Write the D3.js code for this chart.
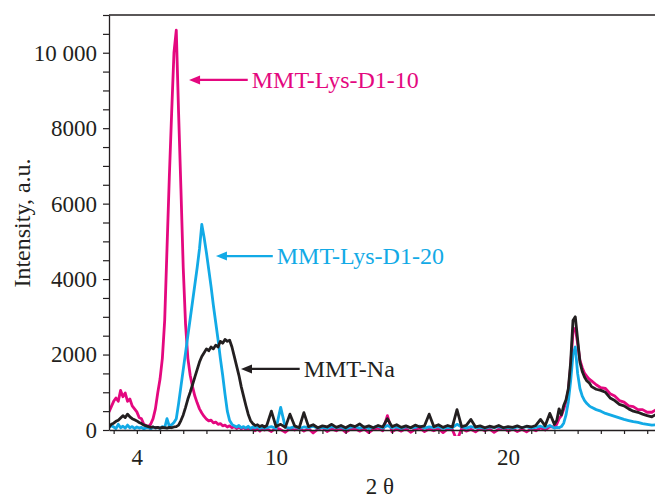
<!DOCTYPE html>
<html>
<head>
<meta charset="utf-8">
<script src="https://cdn.jsdelivr.net/npm/d3@7"></script>
<style>
	body { margin: 0; background: #fff; }
	svg text { font-family: "Liberation Serif", "Times New Roman", serif; fill: #231f20; }
</style>
</head>
<body>
<svg id="chart" width="655" height="499"></svg>
<script>
// 2 theta grid (degrees)
var twoTheta = [
	2.8, 2.9, 3.0, 3.1, 3.2, 3.3, 3.4, 3.5, 3.6, 3.7, 3.8, 3.9, 4.0, 4.1, 4.2, 4.3, 4.4,
	4.5, 4.6, 4.7, 4.8, 4.9, 5.0, 5.1, 5.2, 5.3, 5.4, 5.5, 5.6, 5.7, 5.8, 5.9, 6.0, 6.1,
	6.2, 6.3, 6.4, 6.5, 6.6, 6.7, 6.8, 6.9, 7.0, 7.1, 7.2, 7.3, 7.4, 7.5, 7.6, 7.7, 7.8,
	7.9, 8.0, 8.1, 8.2, 8.3, 8.4, 8.5, 8.6, 8.7, 8.8, 8.9, 9.0, 9.1, 9.2, 9.3, 9.4, 9.5,
	9.6, 9.8, 10.0, 10.2, 10.4, 10.6, 10.8, 11.0, 11.2, 11.4, 11.6, 11.8, 12.0, 12.2,
	12.4, 12.6, 12.8, 13.0, 13.2, 13.4, 13.6, 13.8, 14.0, 14.2, 14.4, 14.6, 14.8, 15.0,
	15.2, 15.4, 15.6, 15.8, 16.0, 16.2, 16.4, 16.6, 16.8, 17.0, 17.2, 17.4, 17.6, 17.8,
	18.0, 18.2, 18.4, 18.6, 18.8, 19.0, 19.2, 19.4, 19.6, 19.8, 20.0, 20.2, 20.4, 20.6,
	20.8, 21.0, 21.2, 21.4, 21.6, 21.8,
	22.0, 22.1, 22.2, 22.3, 22.4, 22.5, 22.6, 22.7, 22.8, 22.9, 23.0, 23.1, 23.2, 23.3,
	23.4, 23.5, 23.6,
	23.8, 24.0, 24.2, 24.4, 24.6, 24.8, 25.0, 25.2, 25.4, 25.6, 25.8, 26.0, 26.2, 26.4
];

// MMT-Lys-D1-10 (magenta)
var lysD110 = [
	480, 620, 760, 850, 760, 1050, 880, 980, 760, 820, 640, 560, 480, 330, 300, 150, 120,
	90, 160, 300, 560, 980, 1350, 1900, 2900, 4800, 6700, 8400, 10000, 10600, 8400, 6400, 4300, 2800,
	1900, 1450, 1150, 900, 720, 560, 450, 360, 290, 240, 260, 190, 210, 150, 170, 110, 130,
	80, 110, 60, 90, 40, 80, 30, 70, 20, 60, 10, 50, -20, 40, -30, 30, 0,
	30, -40, 60, 10, -60, 40, 0, 50, -30, 40, -80, 20, 60, -40,
	30, -20, 50, -60, 20, 40, -30, 30, -70, 20, 50, -20, 380, -50,
	30, -30, 40, -60, 20, 50, -40, 30, -20, 40, -70, 30, 10, -280,
	40, -30, 20, -50, 40, -20, 30, -60, 20, 50, -30, 30, -40, 20,
	-50, 30, -20, 60, 0, 90,
	80, 150, 300, 380, 550, 750, 1050, 1700, 2600, 2700, 2300, 1850, 1650, 1500,
	1420, 1350, 1300,
	1200, 1120, 1100, 960, 900, 780, 740, 640, 620, 540, 540, 470, 470, 540
];

// MMT-Lys-D1-20 (cyan)
var lysD120 = [
	60, 120, 80, 40, 150, 60, 100, 50, 130, 60, 90, 40, 80, 50, 70, 30, 60,
	60, 30, 80, 50, 70, 40, 90, 60, 300, 100, 140, 200, 300, 700, 1150, 1600, 2050,
	2500, 2950, 3400, 3850, 4300, 4800, 5450, 5100, 4700, 4250, 3800, 3300, 2850, 2400, 1900, 1450, 950,
	500, 250, 150, 110, 80, 120, 60, 90, 50, 100, 40, 80, 60, 90, 40, 70, 50,
	60, 90, 40, 600, 70, 50, 90, 40, 80, 60, 100, 50, 70, 40,
	90, 60, 80, 30, 70, 90, 50, 80, 40, 70, 100, 50, 120, 60,
	80, 40, 90, 60, 70, 100, 50, 80, 60, 90, 40, 70, 60, 150,
	80, 50, 90, 60, 70, 40, 80, 60, 90, 50, 70, 40, 80, 60,
	90, 50, 70, 100, 60, 120,
	50, 70, 60, 90, 180, 400, 750, 1300, 2000, 2200, 1500, 1100, 900, 780,
	700, 640, 600,
	540, 500, 440, 400, 360, 320, 280, 250, 220, 200, 170, 150, 130, 140
];

// MMT-Na (black)
var mmtNa = [
	80, 150, 180, 230, 260, 320, 380, 330, 420, 350, 300, 270, 240, 200, 170, 130, 110,
	90, 70, 80, 60, 70, 50, 70, 60, 50, 70, 60, 80, 90, 130, 250, 400, 600,
	820, 1000, 1200, 1400, 1600, 1800, 1950, 2050, 2150, 2100, 2200, 2150, 2250, 2200, 2350, 2300, 2400,
	2350, 2380, 2200, 1950, 1700, 1450, 1150, 900, 650, 420, 250, 170, 120, 140, 90, 120, 80,
	120, 500, 90, 150, 70, 420, 110, 60, 460, 90, 140, 60, 110, 80,
	150, 70, 120, 60, 130, 90, 160, 70, 110, 60, 120, 80, 300, 90,
	140, 70, 110, 60, 130, 80, 110, 420, 90, 140, 70, 120, 80, 540,
	90, 120, 280, 80, 110, 60, 100, 70, 120, 60, 90, 70, 110, 60,
	100, 80, 120, 280, 110, 440,
	150, 250, 560, 400, 650, 800, 1100, 1800, 2900, 3000, 2400, 1800, 1550, 1400,
	1300, 1250, 1150,
	1080, 1050, 1000, 850, 780, 680, 640, 560, 500, 470, 420, 380, 350, 420
];

var seriesNames = ["MMT-Lys-D1-10", "MMT-Lys-D1-20", "MMT-Na"];
var seriesColors = ["#e4087f", "#12aae6", "#231f20"];

// arrow annotations: tip and tail in data units
var arrowTipTheta = [6.25, 7.41, 8.49];
var arrowTipInt = [9280, 4610, 1620];
var arrowTailTheta = [8.78, 9.86, 11.02];

var xTicks = d3.range(3, 27);
var xLabels = [4, 10, 20];
var yTicks = d3.range(0, 11001, 500);
var yLabels = [0, 2000, 4000, 6000, 8000, 10000];

var margin = {left: 109, top: 15, bottom: 69};
var width = 655, height = 499;

var svg = d3.select("#chart");

var xScale = d3.scaleLinear()
	.domain([2.8, 26.4])
	.range([margin.left, 656.5]);
var yScale = d3.scaleLinear()
	.domain([0, 11000])
	.range([height - margin.bottom, margin.top]);

// clip the traces to the plot
svg.append("clipPath")
	.attr("id", "plotClip")
	.append("rect")
	.attr("x", margin.left)
	.attr("y", margin.top)
	.attr("width", width - margin.left)
	.attr("height", height - margin.bottom - margin.top + 6);

var line = d3.line()
	.x(d => xScale(d[0]))
	.y(d => yScale(d[1]));

var seriesData = [lysD110, lysD120, mmtNa];

seriesData.forEach(function(vals, i){
	var pts = twoTheta.map((t, j) => [t, vals[j]]);
	svg.append("path")
		.datum(pts)
		.attr("clip-path", "url(#plotClip)")
		.attr("fill", "none")
		.attr("stroke", seriesColors[i])
		.attr("stroke-width", 2.8)
		.attr("stroke-linejoin", "round")
		.attr("d", line);
});

// y axis
var yAxis = svg.append("g")
	.attr("transform", "translate(" + margin.left + ",0)")
	.call(d3.axisLeft(yScale)
		.tickValues(yTicks)
		.tickSize(6)
		.tickSizeOuter(0)
		.tickPadding(6)
		.tickFormat(d => yLabels.indexOf(d) >= 0 ? (d >= 10000 ? "10 000" : d) : ""));
yAxis.select(".domain").attr("stroke", "#231f20").attr("stroke-width", 1.3);
yAxis.selectAll(".tick line").attr("stroke", "#231f20").attr("stroke-width", 1.2);
yAxis.selectAll("text")
	.attr("font-size", 23)
	.attr("fill", "#231f20");

// x axis
var xAxis = svg.append("g")
	.attr("transform", "translate(0," + yScale(0) + ")")
	.call(d3.axisBottom(xScale)
		.tickValues(xTicks)
		.tickSize(4)
		.tickSizeOuter(0)
		.tickFormat(d => xLabels.indexOf(d) >= 0 ? d : ""));
xAxis.select(".domain").attr("stroke", "#231f20").attr("stroke-width", 1.3);
xAxis.selectAll(".tick line").attr("stroke", "#231f20").attr("stroke-width", 1.2);
xAxis.selectAll("text")
	.attr("font-size", 23)
	.attr("fill", "#231f20")
	.attr("dy", null)
	.attr("y", 35);

// top frame line
svg.append("line")
	.attr("x1", margin.left)
	.attr("x2", width)
	.attr("y1", margin.top)
	.attr("y2", margin.top)
	.attr("stroke", "#231f20")
	.attr("stroke-width", 1.3);

// axis titles
svg.append("text")
	.attr("transform", "translate(30," + 223 + ") rotate(-90)")
	.attr("text-anchor", "middle")
	.attr("font-size", 24)
	.text("Intensity, a.u.");

svg.append("text")
	.attr("x", 380)
	.attr("y", 494)
	.attr("text-anchor", "middle")
	.attr("font-size", 23)
	.text("2 θ");

// arrow annotations
seriesNames.forEach(function(name, i){
	var tipX = xScale(arrowTipTheta[i]);
	var tipY = yScale(arrowTipInt[i]);
	var tailX = xScale(arrowTailTheta[i]);
	var g = svg.append("g").attr("class", "annot");
	g.append("line")
		.attr("x1", tipX + 8)
		.attr("x2", tailX)
		.attr("y1", tipY)
		.attr("y2", tipY)
		.attr("stroke", seriesColors[i])
		.attr("stroke-width", 2.2);
	g.append("path")
		.attr("d", "M" + tipX + "," + tipY + "L" + (tipX + 11) + "," + (tipY - 4.5) +
			"L" + (tipX + 11) + "," + (tipY + 4.5) + "Z")
		.attr("fill", seriesColors[i]);
	g.append("text")
		.attr("x", tailX + 4)
		.attr("y", tipY + 8)
		.attr("font-size", 24)
		.style("fill", seriesColors[i])
		.text(name);
});
</script>
</body>
</html>
